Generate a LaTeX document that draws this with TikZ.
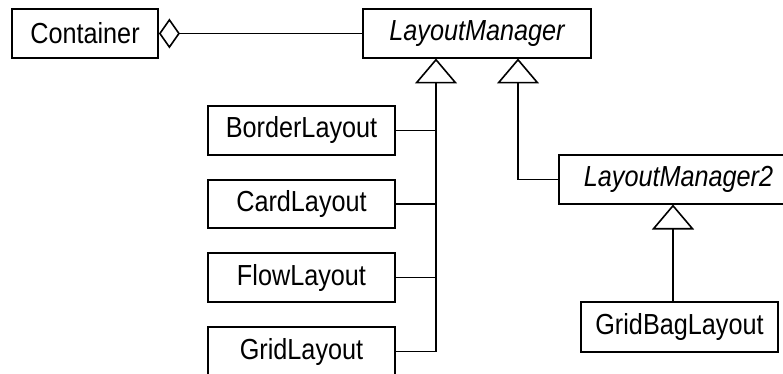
\documentclass[tikz,border=0pt]{standalone}
\usepackage{fontspec}
\setmainfont{Liberation Sans}[FakeStretch=0.87]
\usetikzlibrary{arrows.meta}
\begin{document}
\begin{tikzpicture}[x=1pt,y=-1pt,
  cls/.style={draw, line width=1.8pt, rectangle, inner sep=0pt, minimum height=49pt,
    font=\fontsize{29}{32}\selectfont},
  conn/.style={line width=1.8pt},
  inh/.style={conn, -{Triangle[open, length=25pt, width=42pt, line width=1.6pt]}},
  agg/.style={conn, {Diamond[open, length=21pt, width=30pt, line width=1.6pt]}-}]
\useasboundingbox (0,0) rectangle (783,374);
\begin{scope}
\clip (0,0) rectangle (783,374);
\node[cls, minimum width=146pt] (cont) at (85,33.5) {Container};
\node[cls, minimum width=228pt] (lm) at (477,33.5) {\itshape LayoutManager};
\node[cls, minimum width=187pt] (border) at (301.5,130.5) {BorderLayout};
\node[cls, minimum width=187pt, minimum height=48pt] (card) at (301.5,204) {CardLayout};
\node[cls, minimum width=187pt] (flow) at (301.5,277.5) {FlowLayout};
\node[cls, minimum width=187pt] (grid) at (301.5,351.5) {GridLayout};
\node[cls, minimum width=239pt] (lmtwo) at (678.5,179.5) {\itshape LayoutManager2};
\node[cls, minimum width=197pt, minimum height=50pt] (gbag) at (679.5,327) {GridBagLayout};
\coordinate (t1) at (436,58.5);
\coordinate (t2) at (518,58.5);
\coordinate (t3) at (673,204.5);
\draw[agg] (cont.east) -- (lm.west);
\draw[inh] (grid.east) -| (t1);
\draw[conn] (border.east) -- (border.east -| t1);
\draw[conn] (card.east) -- (card.east -| t1);
\draw[conn] (flow.east) -- (flow.east -| t1);
\draw[inh] (lmtwo.west) -| (t2);
\draw[inh] (gbag.north -| t3) -- (t3);
\end{scope}
\end{tikzpicture}
\end{document}
